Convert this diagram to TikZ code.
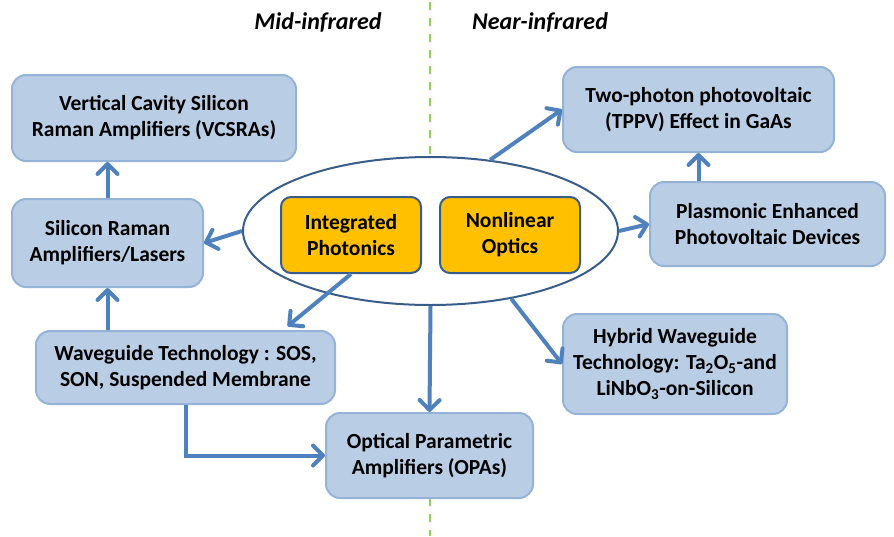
\documentclass[tikz,border=0pt]{standalone}
\usepackage{fontspec}
\setmainfont{Carlito}
\usetikzlibrary{arrows.meta,shapes.geometric}
\definecolor{boxfill}{RGB}{185,205,229}
\definecolor{boxline}{RGB}{149,179,215}
\definecolor{arrowblue}{RGB}{79,129,189}
\definecolor{coreline}{RGB}{56,93,138}
\definecolor{coreorange}{RGB}{255,192,0}
\definecolor{divgreen}{RGB}{146,208,80}
\begin{document}
\begin{tikzpicture}[
  x=1pt, y=-1pt,
  box/.style={draw=boxline, fill=boxfill, line width=2pt, rounded corners=14pt, align=center, inner sep=0pt, font=\fontsize{21.5}{26}\selectfont\bfseries},
  topic/.style={draw=coreline, fill=coreorange, line width=2pt, rounded corners=10pt, align=center, inner sep=0pt, minimum width=140pt, minimum height=76pt, font=\fontsize{21.5}{26}\selectfont\bfseries},
  core/.style={ellipse, draw=coreline, fill=white, line width=2pt, minimum width=375pt, minimum height=148pt},
  link/.style={draw=arrowblue, line width=4pt, -{Straight Barb[length=10pt,width=20pt,round]}},
  band/.style={font=\fontsize{24}{28}\selectfont\bfseries\itshape}
]
\useasboundingbox (0,0) rectangle (894,536);
\draw[divgreen, line width=2.5pt, dash pattern=on 8pt off 8pt] (430,2) -- (430,536);
\node[band] (mid) at (318,22) {Mid-infrared};
\node[band] (near) at (540,22) {Near-infrared};
\node[core] (core) at (430.5,231) {};
\node[topic] (ip) at (351,235) {Integrated\\Photonics};
\node[topic] (nlo) at (510,235) {Nonlinear\\Optics};
\node[box, minimum width=284pt, minimum height=86pt] (vcsra) at (154,118) {Vertical Cavity Silicon\\Raman Amplifiers (VCSRAs)};
\node[box, minimum width=191pt, minimum height=88pt] (sira) at (107.5,243) {Silicon Raman\\Amplifiers/Lasers};
\node[box, minimum width=299pt, minimum height=73pt] (wg) at (185.5,367.5) {Waveguide Technology : SOS,\\SON, Suspended Membrane};
\node[box, minimum width=207pt, minimum height=85pt] (opa) at (429.5,455.5) {Optical Parametric\\Amplifiers (OPAs)};
\node[box, minimum width=271pt, minimum height=85pt] (tppv) at (698.5,109.5) {Two-photon photovoltaic\\(TPPV) Effect in GaAs};
\node[box, minimum width=235pt, minimum height=84pt] (plas) at (767.5,224) {Plasmonic Enhanced\\Photovoltaic Devices};
\node[box, minimum width=224pt, minimum height=100pt] (hyb) at (675,364) {Hybrid Waveguide\\Technology: Ta\textsubscript{2}O\textsubscript{5}-and\\LiNbO\textsubscript{3}-on-Silicon};
\draw[link] (core.west) -- (sira.east);
\draw[link] (sira.north) -- (sira.north |- vcsra.south);
\draw[link] (sira.south |- wg.north) -- (sira.south);
\draw[link, shorten >=6pt] (ip.south) -- ([xshift=-53pt]wg.north east);
\draw[link] (core.south) -- (opa.north);
\draw[link] (wg.south) |- (opa.west);
\draw[link] (core.50) -- (tppv.west);
\draw[link] (core.east) -- (plas.west);
\draw[link] (tppv.south |- plas.north) -- (tppv.south);
\draw[link] (core.-40) -- (hyb.west);
\end{tikzpicture}
\end{document}
